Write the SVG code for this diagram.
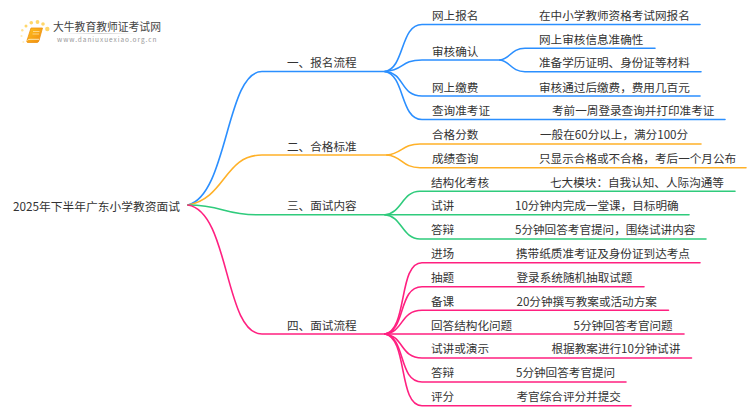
<svg xmlns="http://www.w3.org/2000/svg" width="750" height="410" viewBox="0 0 750 410">
<style>
text{font-family:"Noto Sans CJK SC","Liberation Sans",sans-serif;font-size:11.6px;fill:#333}
.c{fill:none;stroke-width:1.6;stroke-linecap:round}
.b{stroke:#2b8fff}.o{stroke:#ffb128}.g{stroke:#2fcb7c}.p{stroke:#ff2080}
</style>
<defs><linearGradient id="lg" x1="0" y1="0" x2="1" y2="1"><stop offset="0" stop-color="#ffc21e"/><stop offset="1" stop-color="#f08a10"/></linearGradient>
<linearGradient id="ul" x1="0" x2="1" y1="0" y2="0"><stop offset="0" stop-color="#ddd" stop-opacity="0"/><stop offset=".5" stop-color="#ccc"/><stop offset="1" stop-color="#ddd" stop-opacity="0"/></linearGradient></defs>
<g id="connectors">
<path class="c b" d="M188 205C228 195 226 71.500 262 71.500H385"/>
<path class="c b" d="M385 71.500C405 68 400 24.500 422 24.500H700"/>
<path class="c b" d="M385 71.500C405 70 400 60 422 60H500"/>
<path class="c b" d="M385 71.500C405 73 400 96 422 96H700"/>
<path class="c b" d="M385 71.500C405 75 400 119.500 422 119.500H725"/>
<path class="c b" d="M500 60C510 59 511 48.300 525 48.300H655"/>
<path class="c b" d="M500 60C510 61 511 71.700 525 71.700H701"/>
<path class="c o" d="M188 205C226 198 224 155 262 155H387"/>
<path class="c o" d="M387 155C402 154 402 144 420 144H701"/>
<path class="c o" d="M387 155C402 156 402 167.700 420 167.700H746"/>
<path class="c g" d="M188 205C222 205 224 214.700 256 214.700H385"/>
<path class="c g" d="M385 214.700C402 213 402 191.300 420 191.300H735"/>
<path class="c g" d="M385 214.700H689"/>
<path class="c g" d="M385 214.700C402 216 402 239 420 239H706"/>
<path class="c p" d="M188 205C230 212 224 334 262 334H385"/>
<path class="c p" d="M385 334C408 330 398 262.700 422 262.700H700"/>
<path class="c p" d="M385 334C406 331 398 286.700 422 286.700H644"/>
<path class="c p" d="M385 334C404 332 400 310.300 422 310.300H668.500"/>
<path class="c p" d="M385 334H684"/>
<path class="c p" d="M385 334C404 336 400 358 422 358H691.500"/>
<path class="c p" d="M385 334C406 337 398 382 422 382H626"/>
<path class="c p" d="M385 334C408 338 398 405.700 422 405.700H631"/>
</g>
<g id="logo">
<g fill="#ffd76a"><circle cx="47.300" cy="29" r="2.200"/><circle cx="43" cy="24" r="1.800"/><circle cx="37.500" cy="22" r="1.900"/><circle cx="31.300" cy="22.700" r="1.800"/><circle cx="26" cy="26" r="1.500"/><circle cx="22.300" cy="30.300" r="1.200" opacity=".7"/><circle cx="21.500" cy="36" r="1.100" opacity=".5"/><circle cx="23.300" cy="42" r="1" opacity=".4"/></g>
<path d="M31 28H42.500L39 40.500Q38.500 42.500 37 42.500H27.500Q26.500 42.500 27 40.500Z" fill="url(#lg)" stroke="#ee9312" stroke-width=".8"/>
<path d="M27.500 40.500Q28 39.300 30 39.300H39" fill="none" stroke="#fff2c8" stroke-width=".9"/>
<path d="M33 31.500H39.500M32.500 34H39" stroke="#ffe9b0" stroke-width=".7"/>
<text x="53" y="31" style="font-size:10.800px;fill:#444">大牛教育教师证考试网</text>
<rect x="60" y="33" width="80" height="1" fill="url(#ul)"/>
<text x="57" y="42" style="font-size:6.500px;letter-spacing:.95px;fill:#999">www.daniuxuexiao.org.cn</text>
</g>
<g id="root"><text x="13" y="211" style="font-size:11.750px">2025年下半年广东小学教资面试</text></g>
<g id="n1"><text x="287" y="67">一、报名流程</text></g>
<g id="n1-1"><text x="432" y="20">网上报名</text><text x="539" y="20">在中小学教师资格考试网报名</text></g>
<g id="n1-2"><text x="432" y="55.500">审核确认</text><text x="539" y="43.500">网上审核信息准确性</text><text x="539" y="67">准备学历证明、身份证等材料</text></g>
<g id="n1-3"><text x="432" y="91.500">网上缴费</text><text x="539" y="91.500">审核通过后缴费，费用几百元</text></g>
<g id="n1-4"><text x="432" y="115">查询准考证</text><text x="552" y="115">考前一周登录查询并打印准考证</text></g>
<g id="n2"><text x="287" y="151">二、合格标准</text></g>
<g id="n2-1"><text x="432" y="139">合格分数</text><text x="540" y="139">一般在60分以上，满分100分</text></g>
<g id="n2-2"><text x="432" y="163">成绩查询</text><text x="539" y="163">只显示合格或不合格，考后一个月公布</text></g>
<g id="n3"><text x="287" y="210">三、面试内容</text></g>
<g id="n3-1"><text x="431" y="186.500">结构化考核</text><text x="550" y="186.500">七大模块：自我认知、人际沟通等</text></g>
<g id="n3-2"><text x="431" y="210">试讲</text><text x="515" y="210">10分钟内完成一堂课，目标明确</text></g>
<g id="n3-3"><text x="431" y="234">答辩</text><text x="515" y="234">5分钟回答考官提问，围绕试讲内容</text></g>
<g id="n4"><text x="287" y="329.500">四、面试流程</text></g>
<g id="n4-1"><text x="431" y="257.500">进场</text><text x="516" y="257.500">携带纸质准考证及身份证到达考点</text></g>
<g id="n4-2"><text x="431" y="281.500">抽题</text><text x="516.500" y="281.500">登录系统随机抽取试题</text></g>
<g id="n4-3"><text x="431" y="305.500">备课</text><text x="516.500" y="305.500">20分钟撰写教案或活动方案</text></g>
<g id="n4-4"><text x="431" y="329.500">回答结构化问题</text><text x="573.500" y="329.500">5分钟回答考官问题</text></g>
<g id="n4-5"><text x="431" y="353">试讲或演示</text><text x="551.500" y="353">根据教案进行10分钟试讲</text></g>
<g id="n4-6"><text x="431" y="377">答辩</text><text x="516" y="377">5分钟回答考官提问</text></g>
<g id="n4-7"><text x="431" y="401">评分</text><text x="516.500" y="401">考官综合评分并提交</text></g>
</svg>
